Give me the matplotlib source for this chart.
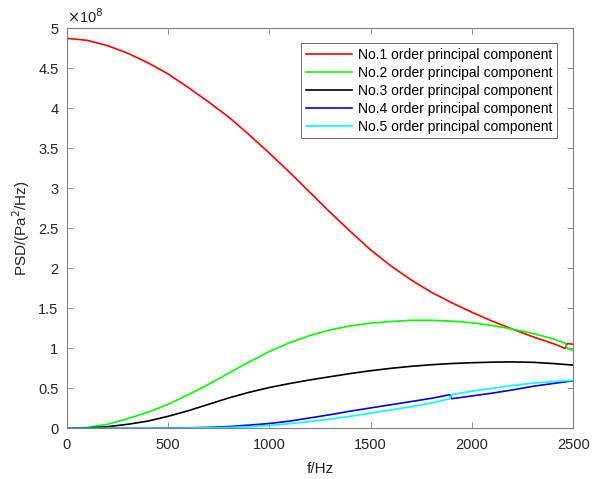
import matplotlib
matplotlib.use("Agg")
import matplotlib.pyplot as plt
from matplotlib.ticker import FixedLocator, FuncFormatter

plt.rcParams['font.family'] = ['Liberation Sans', 'DejaVu Sans']

# Frequency grids (Hz)
freq_main = [0, 100, 200, 300, 400, 500, 600, 700, 800, 900, 1000, 1100, 1200,
             1300, 1400, 1500, 1600, 1700, 1800, 1900, 2000, 2100, 2200, 2300, 2400]
freq_rg = freq_main + [2460, 2470, 2500]
freq_bc = [0, 100, 200, 300, 400, 500, 600, 700, 800, 900, 1000, 1100, 1200,
           1300, 1400, 1500, 1600, 1700, 1800, 1890, 1900, 2000, 2100, 2200,
           2300, 2400, 2500]
freq_k = freq_main + [2500]

# PSD values in units of 1e8 Pa^2/Hz
pc1 = [4.875, 4.85, 4.785, 4.69, 4.57, 4.43, 4.26, 4.08, 3.89, 3.67, 3.44, 3.20,
       2.95, 2.70, 2.46, 2.23, 2.03, 1.855, 1.70, 1.57, 1.45, 1.34, 1.24, 1.145,
       1.06, 1.00, 1.06, 1.05]
pc2 = [0.00, 0.01, 0.05, 0.12, 0.20, 0.30, 0.42, 0.55, 0.69, 0.83, 0.96, 1.07,
       1.16, 1.23, 1.28, 1.315, 1.335, 1.35, 1.35, 1.34, 1.32, 1.285, 1.24, 1.185,
       1.12, 1.065, 1.00, 0.97]
pc3 = [0.00, 0.005, 0.02, 0.05, 0.09, 0.15, 0.22, 0.30, 0.38, 0.45, 0.51,
       0.56, 0.605, 0.645, 0.685, 0.72, 0.75, 0.775, 0.795, 0.81, 0.82, 0.827,
       0.83, 0.825, 0.81, 0.79]
pc4 = [0.00, 0.00, 0.00, 0.00, 0.00, 0.003, 0.006, 0.012, 0.022, 0.04, 0.06,
       0.09, 0.13, 0.17, 0.215, 0.255, 0.295, 0.335, 0.375, 0.42, 0.37, 0.405,
       0.44, 0.48, 0.525, 0.56, 0.595]
pc5 = [0.00, 0.00, 0.00, 0.00, 0.00, 0.002, 0.004, 0.006, 0.011, 0.02, 0.035,
       0.058, 0.085, 0.115, 0.15, 0.19, 0.23, 0.27, 0.315, 0.37, 0.42, 0.465, 0.50,
       0.535, 0.565, 0.585, 0.60]

labels = ['No.1 order principal component', 'No.2 order principal component',
          'No.3 order principal component', 'No.4 order principal component',
          'No.5 order principal component']
colors = ['#ff0000', '#00ff00', '#000000', '#0000ff', '#00ffff']

x_ticks = [0, 500, 1000, 1500, 2000, 2500]
y_ticks = [0, 0.5, 1, 1.5, 2, 2.5, 3, 3.5, 4, 4.5, 5]

fig = plt.figure(figsize=(5.92, 4.79), dpi=100)
ax = fig.add_axes([0.1127, 0.1058, 0.8557, 0.8351])

series = [(freq_rg, pc1), (freq_rg, pc2), (freq_k, pc3), (freq_bc, pc4), (freq_bc, pc5)]
for (fx, fy), lab, c in zip(series, labels, colors):
    ax.plot(fx, fy, color=c, lw=1.2, label=lab)

ax.set_xlim(0, 2500)
ax.set_ylim(0, 5)
ax.xaxis.set_major_locator(FixedLocator(x_ticks))
ax.yaxis.set_major_locator(FixedLocator(y_ticks))
ax.yaxis.set_major_formatter(FuncFormatter(lambda v, p: '%g' % v))
ax.xaxis.set_major_formatter(FuncFormatter(lambda v, p: '%g' % v))

axcol = '#262626'
for s in ax.spines.values():
    s.set_color('#808080')
    s.set_linewidth(0.8)
ax.tick_params(direction='in', top=True, right=True, length=4, width=0.6,
               colors='#808080', labelcolor=axcol, labelsize=10.5)
ax.tick_params(axis='x', pad=7)
ax.tick_params(axis='y', pad=6)

ax.set_xlabel('f/Hz', fontsize=11, color=axcol, labelpad=7)
ax.set_ylabel('PSD/(Pa$^2$/Hz)', fontsize=11, color=axcol, labelpad=4)
ax.text(0.0, 1.005, r'$\times$10$^{8}$', transform=ax.transAxes, fontsize=10.5,
        color=axcol, ha='left', va='bottom')

leg = ax.legend(loc='upper right', bbox_to_anchor=(0.968, 0.963), fontsize=10,
                frameon=True, fancybox=False, edgecolor='#262626',
                handlelength=3.3, handletextpad=0.4, labelspacing=0.28,
                borderpad=0.35, borderaxespad=0.0)
leg.get_frame().set_linewidth(0.6)
for t in leg.get_texts():
    t.set_color('#000000')

fig.savefig('out.png', dpi=100)
